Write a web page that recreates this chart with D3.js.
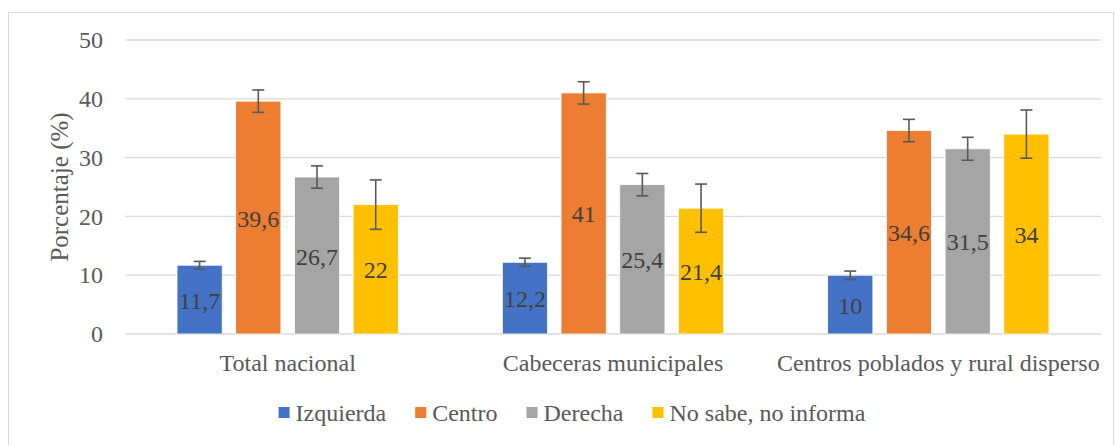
<!DOCTYPE html>
<html>
<head>
<meta charset="utf-8">
<script src="https://cdn.jsdelivr.net/npm/d3@7"></script>
<style>
  body { margin: 0; background: #fff; }
  svg text { font-family: "Liberation Serif", "Times New Roman", serif; }
</style>
</head>
<body>
<svg id="chart" width="1116" height="445"></svg>
<script>
const categories = ['Total nacional', 'Cabeceras municipales', 'Centros poblados y rural disperso'];
const seriesNames = ['Izquierda', 'Centro', 'Derecha', 'No sabe, no informa'];
const seriesColors = ['#4472C4', '#ED7D31', '#A5A5A5', '#FFC000'];
// values per category, in series order
const izquierda = [11.7, 12.2, 10];
const centro = [39.6, 41, 34.6];
const derecha = [26.7, 25.4, 31.5];
const noSabe = [22, 21.4, 34];
// error margins (+/-)
const errIzquierda = [0.65, 0.7, 0.7];
const errCentro = [1.9, 1.9, 1.9];
const errDerecha = [1.9, 1.9, 1.95];
const errNoSabe = [4.2, 4.1, 4.1];
const yTicks = [0, 10, 20, 30, 40, 50];

const values = [izquierda, centro, derecha, noSabe];
const errors = [errIzquierda, errCentro, errDerecha, errNoSabe];

const svg = d3.select('#chart');
const plotLeft = 125, plotRight = 1101, plotTop = 40, plotBottom = 334;

// chart border
svg.append('rect')
  .attr('x', 8.5).attr('y', 12.5)
  .attr('width', 1105).attr('height', 440)
  .attr('fill', 'none').attr('stroke', '#d9d9d9').attr('stroke-width', 1);

const y = d3.scaleLinear().domain([0, 50]).range([plotBottom, plotTop]);
const x0 = d3.scaleBand().domain(categories).range([plotLeft, plotRight]);
const groupPad = 52;
const x1 = d3.scaleBand().domain(seriesNames)
  .range([groupPad, x0.bandwidth() - groupPad]).paddingInner(0.23);

// gridlines
svg.append('g').selectAll('line').data(yTicks).join('line')
  .attr('x1', plotLeft).attr('x2', plotRight)
  .attr('y1', d => y(d)).attr('y2', d => y(d))
  .attr('stroke', '#d9d9d9').attr('stroke-width', 1.3);

// y axis labels
const yAxis = svg.append('g').attr('transform', `translate(${plotLeft - 22},0)`)
  .call(d3.axisLeft(y).tickValues(yTicks).tickSize(0).tickPadding(0));
yAxis.select('.domain').remove();
yAxis.selectAll('text')
  .attr('fill', '#595959').style('font-size', '24px')
  .style('font-family', '"Liberation Serif", serif');

svg.append('text')
  .attr('transform', `translate(59,${(plotTop + plotBottom) / 2}) rotate(-90)`)
  .attr('text-anchor', 'middle')
  .attr('dominant-baseline', 'central')
  .attr('fill', '#595959').style('font-size', '25px')
  .text('Porcentaje (%)');

// category labels
const xAxis = svg.append('g').attr('transform', `translate(0,${plotBottom})`)
  .call(d3.axisBottom(x0).tickSize(0).tickPadding(20));
xAxis.select('.domain').remove();
xAxis.selectAll('text')
  .attr('fill', '#595959').style('font-size', '24px')
  .style('font-family', '"Liberation Serif", serif');

// bars
const rows = [];
categories.forEach((c, ci) => {
  seriesNames.forEach((s, si) => {
    rows.push({ cat: c, series: s, color: seriesColors[si], value: values[si][ci], err: errors[si][ci] });
  });
});

const bars = svg.append('g');
bars.selectAll('rect').data(rows).join('rect')
  .attr('x', d => x0(d.cat) + x1(d.series))
  .attr('y', d => y(d.value))
  .attr('width', x1.bandwidth())
  .attr('height', d => y(0) - y(d.value))
  .attr('fill', d => d.color)
  .attr('stroke', '#ffffff').attr('stroke-width', 0.8);

// error bars
const capW = 12;
const eb = svg.append('g').attr('stroke', '#595959').attr('stroke-width', 1.6);
rows.forEach(d => {
  const cx = x0(d.cat) + x1(d.series) + x1.bandwidth() / 2;
  const yHi = y(d.value + d.err), yLo = y(d.value - d.err);
  eb.append('line').attr('x1', cx).attr('x2', cx).attr('y1', yHi).attr('y2', yLo);
  eb.append('line').attr('x1', cx - capW / 2).attr('x2', cx + capW / 2).attr('y1', yHi).attr('y2', yHi);
  eb.append('line').attr('x1', cx - capW / 2).attr('x2', cx + capW / 2).attr('y1', yLo).attr('y2', yLo);
});

// data labels centred in bars
const fmt = v => String(v).replace('.', ',');
svg.append('g').selectAll('text').data(rows).join('text')
  .attr('x', d => x0(d.cat) + x1(d.series) + x1.bandwidth() / 2)
  .attr('y', d => (y(d.value) + y(0)) / 2 + 9)
  .attr('text-anchor', 'middle')
  .attr('fill', '#404040').style('font-size', '24px')
  .text(d => fmt(d.value));

// legend
const legend = svg.append('g');
const items = legend.selectAll('g').data(seriesNames).join('g');
items.append('rect').attr('width', 11).attr('height', 11).attr('y', 407)
  .attr('fill', (d, i) => seriesColors[i]);
items.append('text').attr('x', 17).attr('y', 421)
  .attr('fill', '#595959').style('font-size', '24px')
  .text(d => d);
let widths = [];
items.each(function () { widths.push(d3.select(this).select('text').node().getComputedTextLength() + 17); });
const gap = 29;
const total = d3.sum(widths) + gap * (widths.length - 1);
let cursor = 572 - total / 2;
items.attr('transform', (d, i) => {
  const t = `translate(${cursor},0)`;
  cursor += widths[i] + gap;
  return t;
});
</script>
</body>
</html>
